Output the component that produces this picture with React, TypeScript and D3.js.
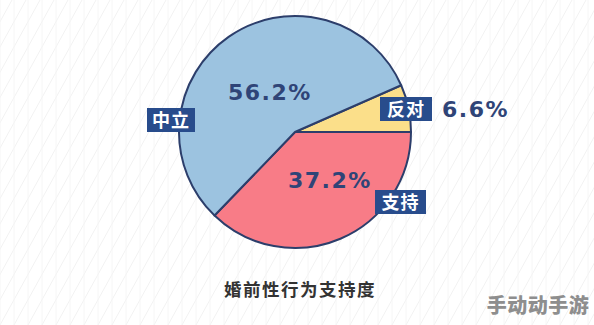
import React from "react";
import * as d3 from "d3";

const categories = ["反对", "支持", "中立"];
const values = [6.6, 37.2, 56.2];
const valueLabels = ["6.6%", "37.2%", "56.2%"];
const colors = ["#fbdf8a", "#f87c87", "#9cc3e0"];
const title = "婚前性行为支持度";
const watermark = "手动动手游";

const W = 594;
const H = 325;
const cx = 295;
const cy = 132;
const R = 116;

export default function App() {
  const total = d3.sum(values);
  const start = (90 - (values[0] / total) * 360) * (Math.PI / 180);
  const pie = d3
    .pie<number>()
    .sort(null)
    .value((d) => d)
    .startAngle(start)
    .endAngle(start + Math.PI * 2);
  const arcs = pie(values);
  const arc = d3.arc<d3.PieArcDatum<number>>().innerRadius(0).outerRadius(R);

  const boxes = [
    { x: 380, y: 97, w: 52, h: 24 },
    { x: 375, y: 190, w: 51, h: 24 },
    { x: 147, y: 108, w: 48, h: 24 },
  ];
  const pct = [
    { x: 442, y: 117 },
    { x: 288, y: 188 },
    { x: 228, y: 100 },
  ];

  const lines = d3.range(-20, 60).map((i) => i * 14);

  return (
    <svg
      width={W}
      height={H}
      style={{ position: "absolute", left: 0, top: 0, background: "#ffffff" }}
      fontFamily="'Noto Sans CJK SC', 'Noto Sans', sans-serif"
    >
      <g stroke="#f2f2f2" strokeWidth={1}>
        {lines.map((x, i) => (
          <line key={"d" + i} x1={x} y1={H} x2={x + 180} y2={0} />
        ))}
        {lines.map((x, i) => (
          <line key={"v" + i} x1={x} y1={0} x2={x} y2={H} stroke="#f6f6f6" />
        ))}
      </g>
      <g transform={`translate(${cx},${cy})`}>
        {arcs.map((a, i) => (
          <path
            key={categories[i]}
            d={arc(a) || ""}
            fill={colors[i]}
            stroke="#2c3e6b"
            strokeWidth={2}
            strokeLinejoin="round"
          />
        ))}
      </g>
      {pct.map((p, i) => (
        <text
          key={"p" + i}
          x={p.x}
          y={p.y}
          fontFamily="'DejaVu Sans', sans-serif"
          fontSize={22}
          fontWeight={700}
          letterSpacing={1.5}
          fill="#2f4477"
        >
          {valueLabels[i]}
        </text>
      ))}
      {boxes.map((b, i) => (
        <g key={"b" + i}>
          <rect x={b.x} y={b.y} width={b.w} height={b.h} fill="#284c8c" />
          <text
            x={b.x + b.w / 2}
            y={b.y + b.h / 2 + 6.5}
            textAnchor="middle"
            fontSize={18}
            fontWeight={700}
            fill="#ffffff"
            letterSpacing={1}
          >
            {categories[i]}
          </text>
        </g>
      ))}
      <text
        x={300}
        y={296}
        textAnchor="middle"
        fontSize={17.5}
        fontWeight={700}
        fill="#333333"
        letterSpacing={1.5}
      >
        {title}
      </text>
      <text
        x={538}
        y={313}
        textAnchor="middle"
        fontSize={20}
        fontWeight={900}
        fill="#8e8e8e"
        letterSpacing={0.5}
      >
        {watermark}
      </text>
    </svg>
  );
}
